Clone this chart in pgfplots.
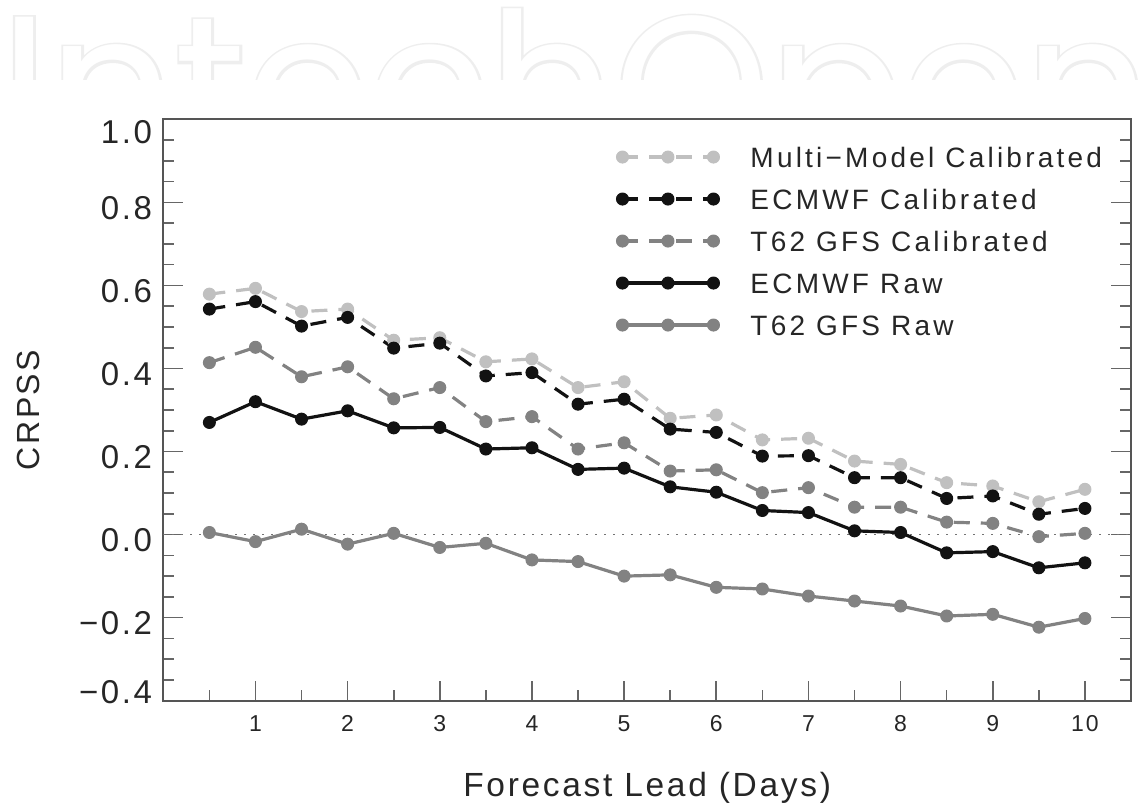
\documentclass[border=0pt]{standalone}
\usepackage{fontspec}
\setmainfont{Liberation Sans}[LetterSpace=8]
\newfontfamily\lsten{Liberation Sans}[LetterSpace=11.5]
\newfontfamily\wmfont{Poppins}
\newfontfamily\wmfontbold{Poppins}[FakeBold=2.5]
\usepackage{pgfplots}
\pgfplotsset{compat=1.18}
\definecolor{lgray}{RGB}{192,192,192}
\definecolor{mgray}{RGB}{130,130,130}
\definecolor{dblack}{RGB}{18,18,18}
\definecolor{axgray}{RGB}{85,85,85}
\definecolor{wm}{RGB}{238,238,238}

\pgfplotstableread{
x mm ecc gfc ecr gfr
0.5 0.579 0.543 0.414 0.270 0.005
1.0 0.593 0.561 0.451 0.320 -0.017
1.5 0.537 0.502 0.380 0.278 0.013
2.0 0.543 0.523 0.404 0.298 -0.023
2.5 0.468 0.449 0.327 0.257 0.003
3.0 0.474 0.461 0.354 0.258 -0.031
3.5 0.416 0.382 0.272 0.206 -0.021
4.0 0.423 0.390 0.284 0.209 -0.061
4.5 0.354 0.314 0.206 0.157 -0.065
5.0 0.368 0.326 0.221 0.160 -0.100
5.5 0.280 0.254 0.153 0.115 -0.097
6.0 0.288 0.246 0.156 0.102 -0.127
6.5 0.228 0.189 0.101 0.058 -0.131
7.0 0.232 0.190 0.113 0.053 -0.148
7.5 0.177 0.137 0.066 0.009 -0.160
8.0 0.169 0.137 0.066 0.005 -0.172
8.5 0.125 0.087 0.030 -0.044 -0.196
9.0 0.117 0.093 0.027 -0.041 -0.192
9.5 0.079 0.049 -0.005 -0.080 -0.223
10.0 0.109 0.063 0.003 -0.068 -0.202
}\crpss

\begin{document}
\begin{tikzpicture}[x=1pt,y=1pt]
\path[use as bounding box] (0,0) rectangle (1140,803);
\begin{scope}
\clip (0,723) rectangle (1140,803);
\node[anchor=base west, inner sep=0pt, text=wm, font=\wmfontbold\fontsize{197}{197}\selectfont] at (0,648) {IntechOpen};
\node[anchor=base west, inner sep=0pt, text=white, font=\wmfont\fontsize{197}{197}\selectfont] at (0,648) {IntechOpen};
\end{scope}
\begin{axis}[
  at={(163.3pt,102.3pt)}, anchor=south west,
  scale only axis, width=967.7pt, height=581.4pt,
  xmin=0, xmax=10.5, ymin=-0.4, ymax=1.0,
  xtick={1,2,3,4,5,6,7,8,9,10},
  xticklabels={1,2,3,4,5,6,7,8,9,10},
  minor xtick={0.5,1.5,2.5,3.5,4.5,5.5,6.5,7.5,8.5,9.5},
  ytick={-0.4,-0.2,0,0.2,0.4,0.6,0.8,1.0},
  yticklabels={\raisebox{14pt}{−0.4},−0.2,0.0,0.2,0.4,0.6,0.8,\raisebox{-7.4pt}{1.0}},
  minor y tick num=3,
  xtick pos=bottom, ytick pos=both,
  major tick length=20pt, minor tick length=11pt,
  axis line style={draw=axgray, line width=1.8pt},
  every tick/.style={draw=axgray!90, line width=1.6pt},
  xticklabel style={font=\fontsize{23}{23}\selectfont, text=black!85, anchor=base, yshift=-31pt, inner sep=0pt},
  yticklabel style={font=\fontsize{33}{33}\selectfont, text=black!85, anchor=base east, inner sep=0pt, xshift=-11pt, yshift=-16.8pt},
  xlabel={Forecast Lead (Days)},
  ylabel={CRPSS},
  every axis x label/.style={at={(axis description cs:0.5,-0.1656)}, anchor=base, font=\fontsize{33.5}{33.5}\selectfont, text=black!85},
  every axis y label/.style={at={(axis description cs:-0.1398,0.5)}, rotate=90, anchor=center, font=\fontsize{32}{32}\selectfont, text=black!85},
  legend style={at={(axis description cs:0.4683,0.954)}, anchor=north west, draw=none, fill=none, inner sep=0pt, outer sep=0pt, row sep=20pt,
    font=\lsten\fontsize{28}{28}\selectfont, text=black!85,
    nodes={inner sep=0pt, text height=21pt, text depth=1pt},
    /tikz/every odd column/.append style={column sep=31pt}},
  legend cell align=left,
  legend image code/.code={\draw plot coordinates {(0pt,0pt) (45.5pt,0pt) (91pt,0pt)};},
  every axis plot/.append style={mark=*, mark size=6pt},
]
\addplot[forget plot, draw=black!55, line width=1.3pt, dash pattern=on 2pt off 7pt, mark=none] coordinates {(0,0) (10.5,0)};
\addplot[lgray, line width=3.2pt, dash pattern=on 16pt off 11pt, mark options={solid, fill=lgray, draw=lgray, line width=1pt}] table[x=x, y=mm] {\crpss};
\addlegendentry{Multi−Model Calibrated}
\addplot[dblack, line width=3.2pt, dash pattern=on 16pt off 11pt, mark options={solid, fill=dblack, draw=dblack, line width=1pt}] table[x=x, y=ecc] {\crpss};
\addlegendentry{ECMWF Calibrated}
\addplot[mgray, line width=3.2pt, dash pattern=on 16pt off 11pt, mark options={solid, fill=mgray, draw=mgray, line width=1pt}] table[x=x, y=gfc] {\crpss};
\addlegendentry{T62 GFS Calibrated}
\addplot[dblack, line width=3.2pt, mark options={solid, fill=dblack, draw=dblack, line width=1pt}] table[x=x, y=ecr] {\crpss};
\addlegendentry{ECMWF Raw}
\addplot[mgray, line width=3.2pt, mark options={solid, fill=mgray, draw=mgray, line width=1pt}] table[x=x, y=gfr] {\crpss};
\addlegendentry{T62 GFS Raw}
\end{axis}
\end{tikzpicture}
\end{document}
